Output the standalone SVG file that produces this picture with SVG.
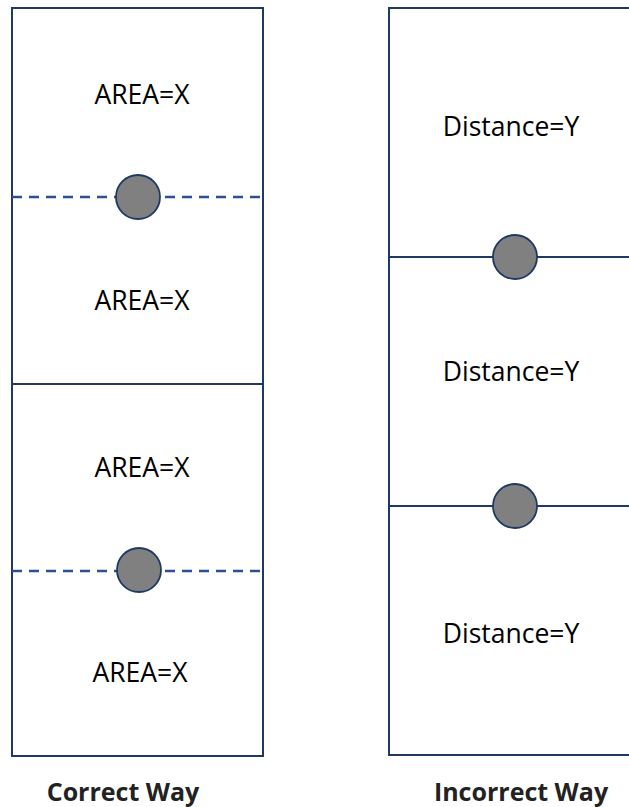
<svg xmlns="http://www.w3.org/2000/svg" width="629" height="807" viewBox="0 0 629 807">
<style>
.box{fill:#fff;stroke:#1f3864;stroke-width:2}
.solid{stroke:#1f3864;stroke-width:1.8;fill:none}
.dash{stroke:#2f5090;stroke-width:2.4;stroke-dasharray:10 7;fill:none}
.dot{fill:#808080;stroke:#1f3864;stroke-width:1.8}
.lbl{font-family:"Open Sans","Noto Sans","Liberation Sans",sans-serif;font-size:26.5px;fill:#000;text-anchor:middle}
.ttl{font-family:"Open Sans","Noto Sans","Liberation Sans",sans-serif;font-size:25px;font-weight:bold;fill:#222;text-anchor:middle}
</style>
<rect width="629" height="807" fill="#fff"/>
<g id="correct">
<rect class="box" x="12" y="8" width="251" height="748"/>
<line class="solid" x1="12" y1="384" x2="263" y2="384"/>
<text class="lbl" x="142" y="104">AREA=X</text>
<text class="lbl" x="142" y="310">AREA=X</text>
<text class="lbl" x="142" y="477">AREA=X</text>
<text class="lbl" x="140" y="682">AREA=X</text>
<text class="ttl" x="123" y="801">Correct Way</text>
</g>
<g id="incorrect">
<rect class="box" x="389" y="8" width="260" height="747"/>
<text class="lbl" x="511" y="136">Distance=Y</text>
<text class="lbl" x="511" y="381">Distance=Y</text>
<text class="lbl" x="511" y="643">Distance=Y</text>
<text class="ttl" x="521" y="801">Incorrect Way</text>
</g>
<g id="connectors">
<line class="dash" x1="12" y1="197" x2="263" y2="197"/>
<line class="dash" x1="12" y1="571" x2="263" y2="571"/>
<line class="solid" x1="389" y1="257" x2="629" y2="257"/>
<line class="solid" x1="389" y1="506" x2="629" y2="506"/>
</g>
<g id="dot1"><circle class="dot" cx="138" cy="197" r="22"/></g>
<g id="dot2"><circle class="dot" cx="139" cy="570" r="22"/></g>
<g id="dot3"><circle class="dot" cx="515" cy="257" r="22"/></g>
<g id="dot4"><circle class="dot" cx="515" cy="506" r="22"/></g>
</svg>
